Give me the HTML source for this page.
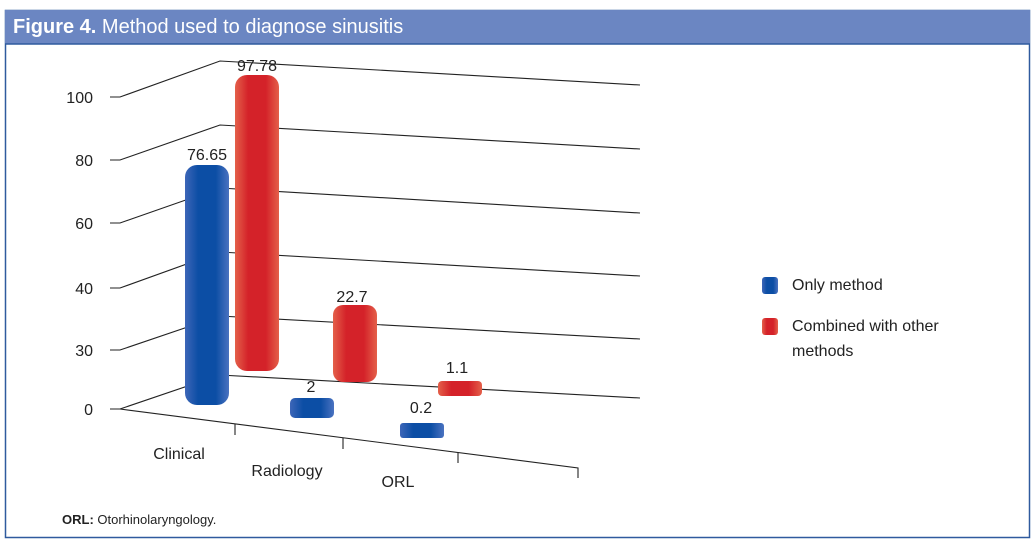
<!DOCTYPE html>
<html><head><style>
body{margin:0;background:#fff;width:1035px;height:549px;overflow:hidden;font-family:"Liberation Sans",sans-serif}
</style></head><body>
<svg width="1035" height="549" xmlns="http://www.w3.org/2000/svg" font-family="Liberation Sans, sans-serif">
<defs>
<linearGradient id="b" x1="0" x2="1"><stop offset="0" stop-color="#3d66b8"/><stop offset=".3" stop-color="#0c4ea5"/><stop offset=".7" stop-color="#0c4ea5"/><stop offset="1" stop-color="#4a72c0"/></linearGradient>
<linearGradient id="r" x1="0" x2="1"><stop offset="0" stop-color="#e4604a"/><stop offset=".3" stop-color="#d42229"/><stop offset=".7" stop-color="#d42229"/><stop offset="1" stop-color="#e4604a"/></linearGradient>
</defs>
<rect x="5.5" y="10.5" width="1024" height="527" fill="none" stroke="#2f5a9e" stroke-width="1.5"/>
<rect x="5" y="10" width="1025" height="34" fill="#6b86c2"/>
<line x1="5" y1="44" x2="1030" y2="44" stroke="#2f5a9e" stroke-width="1.5"/>
<text x="13" y="33" fill="#fff" font-size="20"><tspan font-weight="bold">Figure 4.</tspan>  Method used to diagnose sinusitis</text>
<g stroke="#222" stroke-width="1.1" fill="none">
<polyline points="110,97 120,97 220,61 640,85"/>
<polyline points="110,160 120,160 220,125 640,149"/>
<polyline points="110,223 120,223 220,188 640,213"/>
<polyline points="110,288 120,288 220,252 640,276"/>
<polyline points="110,350 120,350 220,316 640,339"/>
<polyline points="110,409 120,409 220,375 640,398"/>
<polyline points="120,409 578,468 578,478"/>
<line x1="235" y1="424" x2="235" y2="435"/>
<line x1="343" y1="438" x2="343" y2="449"/>
<line x1="458" y1="453" x2="458" y2="463"/>
</g>
<g font-size="16" fill="#222" text-anchor="end">
<text x="93" y="103">100</text><text x="93" y="166">80</text><text x="93" y="229">60</text>
<text x="93" y="294">40</text><text x="93" y="356">30</text><text x="93" y="415">0</text>
</g>
<rect x="185" y="165" width="44" height="240" rx="12" fill="url(#b)"/>
<rect x="235" y="75" width="44" height="296" rx="12" fill="url(#r)"/>
<rect x="333" y="305" width="44" height="77" rx="10" fill="url(#r)"/>
<rect x="290" y="398" width="44" height="20" rx="5" fill="url(#b)"/>
<rect x="438" y="381" width="44" height="15" rx="4" fill="url(#r)"/>
<rect x="400" y="423" width="44" height="15" rx="3" fill="url(#b)"/>
<g font-size="16" fill="#222" text-anchor="middle">
<text x="207" y="160">76.65</text><text x="257" y="71">97.78</text><text x="352" y="302">22.7</text>
<text x="311" y="392">2</text><text x="457" y="373">1.1</text><text x="421" y="413">0.2</text>
<text x="179" y="459">Clinical</text><text x="287" y="476">Radiology</text><text x="398" y="487">ORL</text>
</g>
<rect x="762" y="277" width="16" height="17" rx="3" fill="url(#b)"/>
<rect x="762" y="318" width="16" height="17" rx="3" fill="url(#r)"/>
<g font-size="16" fill="#222">
<text x="792" y="290">Only method</text>
<text x="792" y="331">Combined with other</text>
<text x="792" y="356">methods</text>
</g>
<text x="62" y="524" font-size="13" fill="#222"><tspan font-weight="bold">ORL:</tspan> Otorhinolaryngology.</text>
</svg>
</body></html>
